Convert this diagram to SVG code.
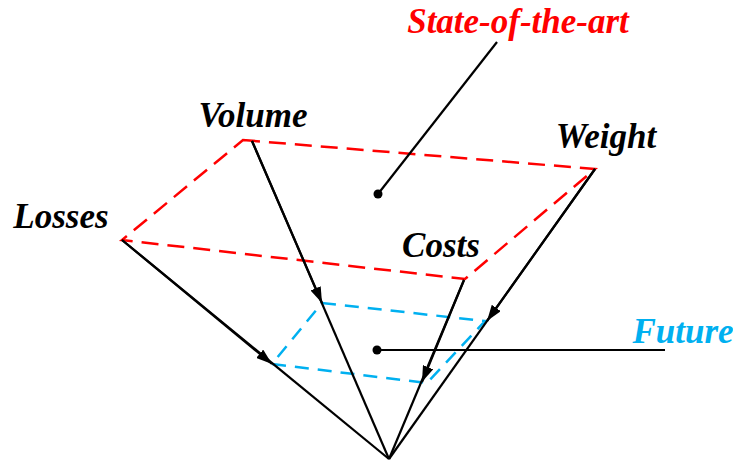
<svg xmlns="http://www.w3.org/2000/svg" width="733" height="462" viewBox="0 0 733 462">
<style>
.lbl{font-family:"Liberation Serif","Times New Roman",serif;font-weight:bold;font-style:italic;font-size:35px;fill:#000}
.red{stroke:#ff0000;stroke-width:2.5;fill:none;stroke-dasharray:17 9}
.blue{stroke:#00b0f0;stroke-width:2.5;fill:none;stroke-dasharray:14 9}
.ln{stroke:#000;stroke-width:2.2;fill:none}
</style>
<defs>
<marker id="ah" viewBox="0 0 16 11" refX="16" refY="5.5" markerWidth="16" markerHeight="11" markerUnits="userSpaceOnUse" orient="auto"><path d="M0,0 L16,5.5 L0,11 z" fill="#000"/></marker>
</defs>
<rect width="733" height="462" fill="#fff"/>
<g id="state-of-the-art-plane">
<polygon class="red" points="243,140 595,169 465,279 122,240"/>
</g>
<g id="future-plane">
<polygon class="blue" points="322,303 485,321 427,383 272,364"/>
</g>
<g id="connectors">
<line class="ln" x1="122" y1="240" x2="389" y2="459"/>
<line class="ln" x1="122" y1="240" x2="272" y2="364" marker-end="url(#ah)"/>
<line class="ln" x1="252" y1="141" x2="389" y2="459"/>
<line class="ln" x1="252" y1="141" x2="322" y2="303" marker-end="url(#ah)"/>
<line class="ln" x1="464" y1="280" x2="389" y2="459"/>
<line class="ln" x1="464" y1="280" x2="422" y2="382" marker-end="url(#ah)"/>
<line class="ln" x1="595" y1="169" x2="389" y2="459"/>
<line class="ln" x1="595" y1="169" x2="487" y2="321" marker-end="url(#ah)"/>
<line class="ln" x1="378" y1="194" x2="497" y2="42"/>
<circle cx="378" cy="194" r="4.5" fill="#000"/>
<line class="ln" x1="377" y1="350" x2="665" y2="350"/>
<circle cx="377" cy="350" r="4.5" fill="#000"/>
</g>
<g id="labels">
<text class="lbl" x="518" y="33" text-anchor="middle" style="fill:#ff0000">State-of-the-art</text>
<text class="lbl" x="253" y="127" text-anchor="middle">Volume</text>
<text class="lbl" x="606" y="148" text-anchor="middle">Weight</text>
<text class="lbl" x="61" y="228" text-anchor="middle">Losses</text>
<text class="lbl" x="441" y="257" text-anchor="middle">Costs</text>
<text class="lbl" x="683" y="343" text-anchor="middle" style="fill:#00b0f0">Future</text>
</g>
</svg>
